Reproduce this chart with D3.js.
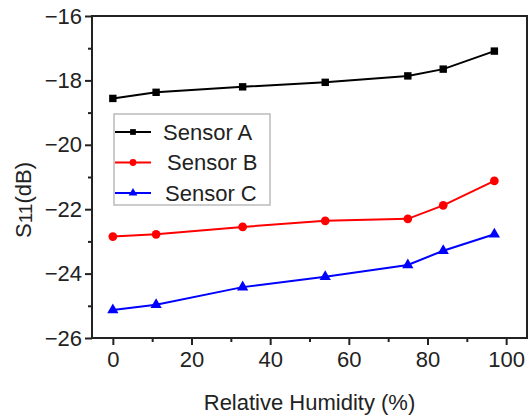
<!DOCTYPE html>
<html>
<head>
<meta charset="utf-8">
<script src="https://cdn.jsdelivr.net/npm/d3@7"></script>
<style>
  html, body { margin: 0; padding: 0; background: #fff; }
  svg { display: block; font-family: Arial, "Liberation Sans", sans-serif; }
  text { fill: #222; }
</style>
</head>
<body>
<svg width="528" height="417"></svg>
<script>
const humidity = [0, 11, 33, 54, 75, 84, 97];
const sensorA = [-18.56, -18.37, -18.2, -18.06, -17.86, -17.65, -17.09];
const sensorB = [-22.85, -22.78, -22.55, -22.36, -22.3, -21.88, -21.12];
const sensorC = [-25.13, -24.97, -24.42, -24.1, -23.73, -23.29, -22.78];
const seriesNames = ['Sensor A', 'Sensor B', 'Sensor C'];
const xTicks = [0, 20, 40, 60, 80, 100];
const yTicks = [-26, -24, -22, -20, -18, -16];

const series = [
  { name: seriesNames[0], values: sensorA, color: '#000000', symbol: d3.symbolSquare, size: 55 },
  { name: seriesNames[1], values: sensorB, color: '#ff0000', symbol: d3.symbolCircle, size: 60 },
  { name: seriesNames[2], values: sensorC, color: '#0000ff', symbol: d3.symbolTriangle, size: 55 },
];

const svg = d3.select('svg');
const m = { left: 92, top: 16, right: 527, bottom: 338 };

const x = d3.scaleLinear().domain([-5.3, 105.3]).range([m.left, m.right]);
const y = d3.scaleLinear().domain([-26, -16]).range([m.bottom, m.top]);

// frame
svg.append('rect')
  .attr('x', m.left).attr('y', m.top)
  .attr('width', m.right - m.left).attr('height', m.bottom - m.top)
  .attr('fill', 'none').attr('stroke', '#222').attr('stroke-width', 2);

// axes, major + minor ticks
const xAxis = svg.append('g').attr('transform', `translate(0,${m.bottom})`)
  .call(d3.axisBottom(x).tickValues(xTicks).tickSize(7).tickPadding(6).tickFormat(d3.format('d')));
const xMinor = svg.append('g').attr('transform', `translate(0,${m.bottom})`)
  .call(d3.axisBottom(x).tickValues(d3.range(10, 100, 20)).tickSize(4).tickFormat(''));
const yAxis = svg.append('g').attr('transform', `translate(${m.left},0)`)
  .call(d3.axisLeft(y).tickValues(yTicks).tickSize(7).tickPadding(3).tickFormat(d3.format('d')));
const yMinor = svg.append('g').attr('transform', `translate(${m.left},0)`)
  .call(d3.axisLeft(y).tickValues(d3.range(-25, -16, 2)).tickSize(4).tickFormat(''));

[xAxis, xMinor, yAxis, yMinor].forEach((g) => {
  g.select('.domain').remove();
  g.selectAll('line').attr('stroke', '#222').attr('stroke-width', 2);
  g.selectAll('text').attr('font-size', 22).attr('fill', '#222');
});

// series
const line = d3.line().x((d, i) => x(humidity[i])).y(d => y(d));
series.forEach((s) => {
  svg.append('path')
    .attr('d', line(s.values))
    .attr('fill', 'none').attr('stroke', s.color).attr('stroke-width', 2);
  svg.append('g').selectAll('path')
    .data(s.values)
    .join('path')
    .attr('transform', (d, i) => `translate(${x(humidity[i])},${y(d)})`)
    .attr('d', d3.symbol(s.symbol, s.size))
    .attr('fill', s.color);
});

// legend
const legend = svg.append('g');
legend.append('rect')
  .attr('x', 114).attr('y', 114).attr('width', 156).attr('height', 91)
  .attr('fill', '#fff').attr('stroke', '#bbb').attr('stroke-width', 1.5);
series.forEach((s, i) => {
  const ly = 132 + i * 30.5;
  legend.append('line')
    .attr('x1', 115).attr('x2', 151).attr('y1', ly).attr('y2', ly)
    .attr('stroke', s.color).attr('stroke-width', 2);
  legend.append('path')
    .attr('transform', `translate(133,${ly})`)
    .attr('d', d3.symbol(s.symbol, s.size * 0.6))
    .attr('fill', s.color);
  legend.append('text')
    .attr('x', [163, 167, 165][i]).attr('y', ly).attr('dy', '0.36em')
    .attr('font-size', 22).text(s.name);
});

// titles
svg.append('text')
  .attr('x', (m.left + m.right) / 2).attr('y', 410)
  .attr('text-anchor', 'middle').attr('font-size', 22)
  .text('Relative Humidity (%)');

const yt = svg.append('text')
  .attr('transform', 'translate(31,200) rotate(-90)')
  .attr('text-anchor', 'middle').attr('font-size', 22);
yt.append('tspan').text('S');
yt.append('tspan').attr('font-size', 19).attr('dy', 1).text('11');
yt.append('tspan').attr('dy', -1).text('(dB)');
</script>
</body>
</html>
